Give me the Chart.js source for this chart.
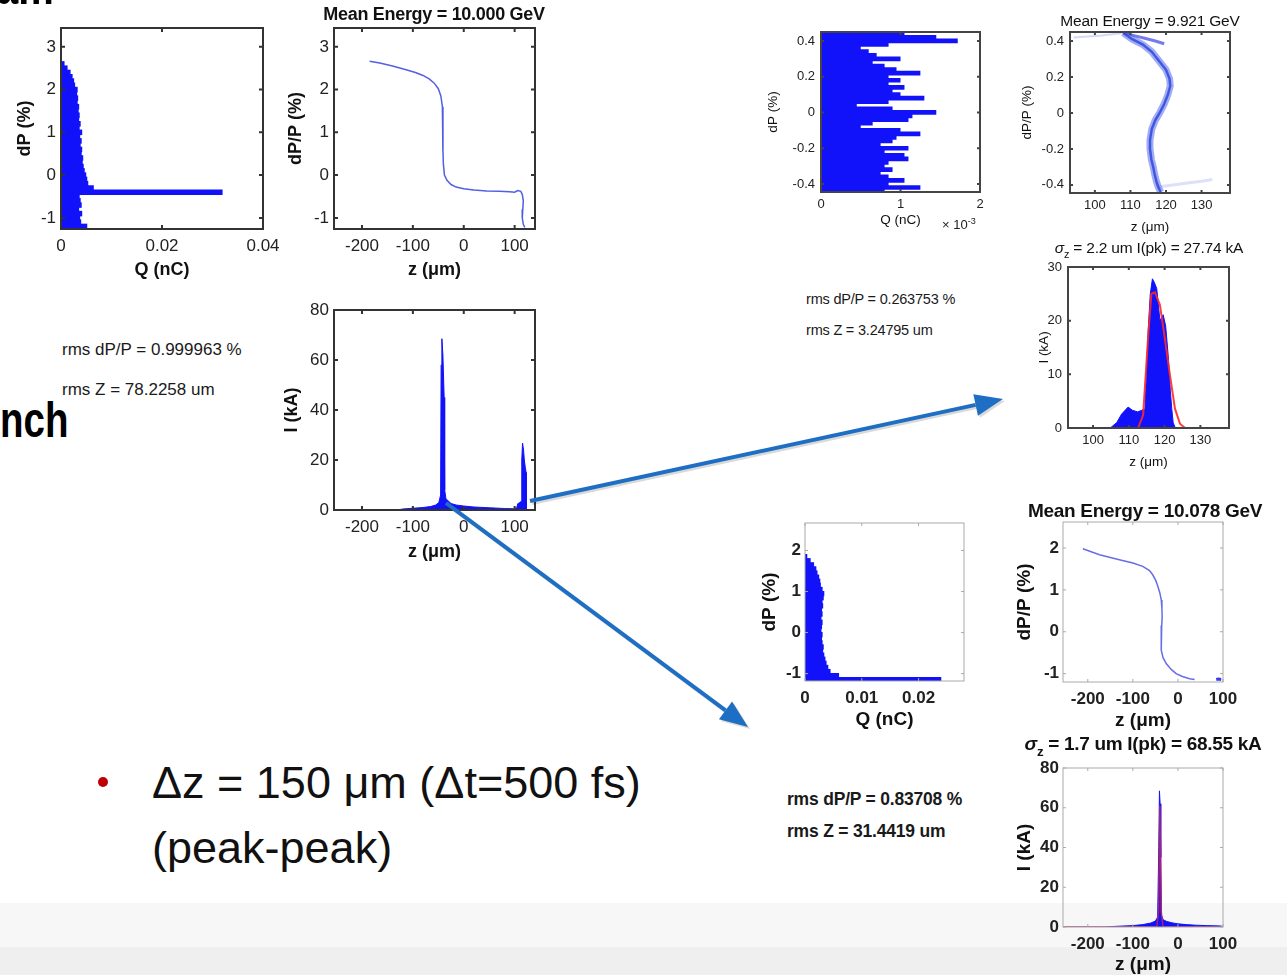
<!DOCTYPE html>
<html>
<head>
<meta charset="utf-8">
<script src="https://cdn.jsdelivr.net/npm/chart.js@4.4.0/dist/chart.umd.min.js"></script>
<style>
  html, body { margin: 0; padding: 0; }
  body { width: 1287px; height: 975px; position: relative; overflow: hidden; background: #fff;
         font-family: "Liberation Sans", Arial, sans-serif; }
  .band1 { position: absolute; left: 0; top: 903px; width: 1287px; height: 44px; background: #f7f7f7; }
  .band2 { position: absolute; left: 0; top: 947px; width: 1287px; height: 28px; background: #efefef; }
  canvas { position: absolute; }
  .txt { position: absolute; white-space: nowrap; color: #111; line-height: 1; transform: translateY(-50%); }
  .ctr { transform: translate(-50%, -50%); }
  .slide { font-weight: bold; color: #000; font-size: 50px; transform-origin: right center; }
  .rmsA { font-size: 17px; color: #1a1a1a; }
  .rmsB { font-size: 14.5px; color: #1a1a1a; letter-spacing: -0.2px; }
  .rmsC { font-size: 17.5px; font-weight: bold; color: #1a1a1a; letter-spacing: -0.2px; }
  .bullet { font-size: 45px; color: #111; }
  .dot { position: absolute; left: 98px; top: 777px; width: 10px; height: 10px; border-radius: 50%; background: #c00000; }
  sub { font-size: 70%; vertical-align: -0.45em; }
  sup { font-size: 70%; vertical-align: 0.5em; }
  svg { position: absolute; left: 0; top: 0; }
</style>
</head>
<body>
<div class="band1"></div>
<div class="band2"></div>

<script>
// ---------- initial beam (left column) ----------
const dpBinsA = [-1.2, -1.1, -1.0, -0.9, -0.8, -0.7, -0.6, -0.5, -0.4, -0.3,
                 -0.2, -0.1, 0, 0.1, 0.2, 0.3, 0.4, 0.5, 0.6, 0.7,
                 0.8, 0.9, 1.0, 1.1, 1.2, 1.3, 1.4, 1.5, 1.6, 1.7,
                 1.8, 1.9, 2.0, 2.1, 2.2, 2.3, 2.4, 2.5, 2.6, 2.7];
const qHistA = [0.0052, 0.0040, 0.0038, 0.0042, 0.0036, 0.0041, 0.0039, 0.0037, 0.0320, 0.0065,
                0.0054, 0.0052, 0.0050, 0.0047, 0.0045, 0.0043, 0.0044, 0.0041, 0.0042, 0.0039,
                0.0041, 0.0038, 0.0042, 0.0037, 0.0039, 0.0036, 0.0037, 0.0035, 0.0036, 0.0033,
                0.0034, 0.0032, 0.0033, 0.0028, 0.0026, 0.0023, 0.0019, 0.0013, 0.0007, 0.0001];

const zPhaseA = [-185, -165, -140, -115, -95, -80, -68, -58, -50, -45,
                 -42, -41, -41, -41, -40, -38, -33, -25, -15, 0,
                 20, 45, 70, 90, 100, 106, 112, 115, 117, 116,
                 115, 117, 120];
const dpPhaseA = [2.66, 2.62, 2.55, 2.47, 2.40, 2.33, 2.25, 2.15, 2.02, 1.85,
                  1.6, 1.3, 1.0, 0.6, 0.25, 0.0, -0.12, -0.22, -0.28, -0.32,
                  -0.35, -0.37, -0.38, -0.39, -0.40, -0.36, -0.38, -0.45, -0.6, -0.8,
                  -1.0, -1.15, -1.22];

const zCurrA = [-255, -130, -120, -100, -80, -65, -55, -49, -45.5, -44.5,
                -43, -41, -38.5, -37.5, -35, -25, -15, 0, 20, 50,
                80, 98, 104, 106, 110, 113, 114, 115.5, 117.5, 119,
                121, 122.5, 123, 140];
const iCurrA = [0, 0, 0.4, 0.7, 1.0, 1.4, 2.0, 3.0, 6, 58,
                68.5, 62, 45, 8, 4.5, 2.6, 2.0, 1.6, 1.2, 0.9,
                0.6, 0.5, 0.8, 2.5, 3.0, 3.5, 20, 26.8, 24, 20,
                17, 15, 0, 0];

// ---------- tail bunch (upper right) ----------
const dpBinsB = [0.44, 0.42, 0.40, 0.38, 0.36, 0.34, 0.32, 0.30, 0.28, 0.26,
                 0.24, 0.22, 0.20, 0.18, 0.16, 0.14, 0.12, 0.10, 0.08, 0.06,
                 0.04, 0.02, 0, -0.02, -0.04, -0.06, -0.08, -0.10, -0.12, -0.14,
                 -0.16, -0.18, -0.20, -0.22, -0.24, -0.26, -0.28, -0.30, -0.32, -0.34,
                 -0.36, -0.38, -0.40, -0.42, -0.44];
const qHistB = [1.05, 1.45, 1.72, 0.85, 0.5, 0.6, 0.7, 1.0, 0.65, 0.8,
                0.95, 1.25, 0.85, 1.0, 0.85, 1.05, 0.9, 1.0, 1.3, 0.85,
                0.45, 0.9, 1.45, 1.15, 1.1, 0.65, 0.5, 1.0, 1.25, 0.95,
                0.9, 0.75, 1.1, 0.8, 1.05, 1.1, 0.85, 0.8, 0.9, 0.75,
                0.85, 1.05, 0.85, 1.25, 0.8];   // x 1e-3 nC

const zPhaseB = [108, 110.5, 113.5, 116, 118, 120, 121, 121.2, 120.5, 119.5,
                 118.2, 117, 116, 115.5, 115.5, 115.9, 116.4, 116.8, 117.3, 117.8, 118.5];
const dpPhaseB = [0.445, 0.41, 0.38, 0.34, 0.29, 0.24, 0.19, 0.15, 0.10, 0.05,
                  0.0, -0.04, -0.09, -0.15, -0.2, -0.26, -0.3, -0.34, -0.38, -0.41, -0.44];
const zBranchB = [108, 111, 114, 117, 119.5];
const dpBranchB = [0.445, 0.43, 0.415, 0.40, 0.385];
const zTailB = [94, 98, 102, 106, 108];
const dpTailB = [0.42, 0.425, 0.43, 0.44, 0.445];
const zTail2B = [118, 122, 126, 130, 133];
const dpTail2B = [-0.41, -0.40, -0.39, -0.38, -0.37];

const zCurrB = [93, 105, 106.6, 108, 109.8, 111, 112.5, 113.6, 114.5, 114.8,
                115.4, 116, 116.6, 117.2, 117.8, 118.7, 119.6, 120.3, 121, 121.6,
                122, 122.4, 123, 138];
const iCurrB = [0, 0.1, 1.0, 2.6, 3.9, 3.3, 3.0, 3.3, 3.5, 8,
                18, 25, 27.8, 27, 26, 20, 21.1, 19, 13.5, 7,
                3.6, 1, 0, 0];
const zFitB = [93, 112.6, 114, 115.4, 116.3, 117.3, 118.7, 120, 121.5, 122.9, 124.3, 125.7, 138];
const iFitB = [0, 0, 2.4, 17, 25, 25.3, 22.9, 17, 9.8, 3.6, 0.8, 0, 0];

// ---------- main bunch (lower right) ----------
const dpBinsC = [-1.15, -1.05, -0.95, -0.85, -0.75, -0.65, -0.55, -0.45, -0.35, -0.25,
                 -0.15, -0.05, 0.05, 0.15, 0.25, 0.35, 0.45, 0.55, 0.65, 0.75,
                 0.85, 0.95, 1.05, 1.15, 1.25, 1.35, 1.45, 1.55, 1.65, 1.75, 1.85];
const qHistC = [0.0240, 0.0060, 0.0045, 0.0041, 0.0038, 0.0036, 0.0034, 0.0032, 0.0033, 0.0031,
                0.0030, 0.0031, 0.0029, 0.0030, 0.0031, 0.0029, 0.0031, 0.0030, 0.0032, 0.0031,
                0.0033, 0.0034, 0.0031, 0.0028, 0.0027, 0.0025, 0.0022, 0.0020, 0.0016, 0.0010, 0.0004];

const zPhaseC = [-211, -174, -130, -100, -78, -63, -56, -49, -44.4, -40,
                 -37, -35.5, -35, -36, -37, -37, -33, -26, -15, -4,
                 10, 26, 37];
const dpPhaseC = [1.98, 1.84, 1.72, 1.64, 1.56, 1.46, 1.36, 1.22, 1.08, 0.92,
                  0.76, 0.55, 0.36, 0.15, -0.04, -0.44, -0.62, -0.76, -0.9, -1.0,
                  -1.07, -1.12, -1.14];
const zClusterC = [85, 90, 96];
const dpClusterC = [-1.14, -1.13, -1.14];

const zCurrC = [-255, -160, -140, -100, -78, -60, -50, -45, -42.5, -41,
                -39.5, -38, -36.5, -33, -25, -11, 0, 18.5, 40, 63, 96, 100];
const iCurrC = [0, 0, 0.3, 0.7, 1.2, 2.0, 3.0, 5, 40, 68.5,
                62, 35, 6, 3.7, 2.8, 2.0, 1.6, 1.2, 0.9, 0.7, 0.5, 0];
const zFitC = [-255, -47, -43, -40, -37, -33, 100];
const iFitC = [0, 0, 8, 61, 8, 0, 0];

// ---------- tick labels ----------
const qTicksA = [0, 0.02, 0.04];
const dpTicksA = [-1, 0, 1, 2, 3];
const zTicksA = [-200, -100, 0, 100];
const iTicksA = [0, 20, 40, 60, 80];
const qTicksB = [0, 1, 2];
const dpTicksB = [-0.4, -0.2, 0, 0.2, 0.4];
const zTicksB = [100, 110, 120, 130];
const iTicksB = [0, 10, 20, 30];
const qTicksC = [0, 0.01, 0.02];
const dpTicksC = [-1, 0, 1, 2];
const zTicksC = [-200, -100, 0, 100];
const iTicksC = [0, 20, 40, 60, 80];

const FONT = '"Liberation Sans", Arial, sans-serif';
const HIST_BLUE = 'rgb(18,18,250)';

// matlab-like box with inward ticks on all four sides
const framePlugin = {
  id: 'matFrame',
  afterDatasetsDraw(chart, args, opts) {
    const {ctx, chartArea: a, scales} = chart;
    const tl = opts.tick;
    ctx.save();
    ctx.strokeStyle = opts.color;
    ctx.lineWidth = opts.width;
    ctx.beginPath();
    scales.x.ticks.forEach(t => {
      const px = scales.x.getPixelForValue(t.value);
      ctx.moveTo(px, a.bottom); ctx.lineTo(px, a.bottom - tl);
      ctx.moveTo(px, a.top); ctx.lineTo(px, a.top + tl);
    });
    scales.y.ticks.forEach(t => {
      const py = scales.y.getPixelForValue(t.value);
      ctx.moveTo(a.left, py); ctx.lineTo(a.left + tl, py);
      ctx.moveTo(a.right, py); ctx.lineTo(a.right - tl, py);
    });
    ctx.stroke();
    ctx.strokeRect(a.left, a.top, a.right - a.left, a.bottom - a.top);
    ctx.restore();
  }
};

const styleA = {tick: 17, tickWeight: 'normal', title: 18, titleWeight: 'bold', padX: 7, padY: 5, frame: '#333', frameW: 2, tickLen: 4};
const styleB = {tick: 13, tickWeight: 'normal', title: 13.5, titleWeight: 'normal', padX: 5, padY: 6, frame: '#444', frameW: 2, tickLen: 3};
const styleC = {tick: 17, tickWeight: 'bold', title: 19, titleWeight: 'bold', padX: 7, padY: 4, frame: '#aaa', frameW: 1, tickLen: 3};

function axisCfg(p, a, isX) {
  const st = p.style;
  const lh = st.title * 1.2;
  const canvasLeft = p.box.l - p.pad.l;
  const canvasBottom = p.box.b + p.pad.b;
  return {
    type: 'linear', position: isX ? 'bottom' : 'left', min: a.min, max: a.max, offset: false,
    grid: {display: false, drawTicks: false}, border: {display: false},
    afterBuildTicks: s => { s.ticks = a.ticks.map(v => ({value: v})); },
    afterFit: s => { if (isX) s.height = p.pad.b; else s.width = p.pad.l; },
    ticks: {autoSkip: false, maxRotation: 0, minRotation: 0, padding: isX ? st.padX : st.padY,
            color: '#222', font: {family: FONT, size: st.tick, weight: st.tickWeight},
            callback: v => String(v)},
    title: {display: true, text: a.title, color: '#111',
            font: {family: FONT, size: st.title, weight: st.titleWeight, lineHeight: 1.2},
            padding: isX ? {top: 0, bottom: canvasBottom - a.titleAt - lh / 2}
                         : {top: a.titleAt - canvasLeft - lh / 2, bottom: 0}}
  };
}

function makePanel(p) {
  const cv = document.createElement('canvas');
  cv.width = p.box.r - p.box.l + p.pad.l + p.pad.r;
  cv.height = p.box.b - p.box.t + p.pad.t + p.pad.b;
  cv.style.left = (p.box.l - p.pad.l) + 'px';
  cv.style.top = (p.box.t - p.pad.t) + 'px';
  document.body.appendChild(cv);
  const st = p.style;
  new Chart(cv, {
    type: p.type,
    data: {datasets: p.datasets},
    options: {
      responsive: false,
      animation: false,
      indexAxis: p.indexAxis || 'x',
      layout: {padding: {top: p.pad.t, right: p.pad.r, left: 0, bottom: 0}, autoPadding: false},
      plugins: {
        legend: {display: false},
        tooltip: {enabled: false},
        matFrame: {color: st.frame, width: st.frameW, tick: st.tickLen}
      },
      scales: {x: axisCfg(p, p.x, true), y: axisCfg(p, p.y, false)}
    },
    plugins: [framePlugin]
  });
}

function hist(bins, vals) {
  return {data: bins.map((d, i) => ({x: vals[i], y: d})), backgroundColor: HIST_BLUE,
          borderWidth: 0, barPercentage: 1.3, categoryPercentage: 1};
}
function curve(xs, ys, color, width, opts) {
  return Object.assign({data: xs.map((x, i) => ({x: x, y: ys[i]})), showLine: true,
          borderColor: color, backgroundColor: color, borderWidth: width,
          pointRadius: 0, tension: 0, fill: false}, opts || {});
}

// ---------- panels ----------
makePanel({
  type: 'bar', indexAxis: 'y', style: styleA,
  box: {l: 61, t: 28, r: 263, b: 229}, pad: {l: 61, t: 20, r: 30, b: 55},
  x: {min: 0, max: 0.04, ticks: qTicksA, title: 'Q (nC)', titleAt: 270},
  y: {min: -1.26, max: 3.44, ticks: dpTicksA, title: 'dP (%)', titleAt: 25},
  datasets: [hist(dpBinsA, qHistA)]
});
makePanel({
  type: 'scatter', style: styleA,
  box: {l: 334, t: 28, r: 535, b: 229}, pad: {l: 60, t: 20, r: 30, b: 55},
  x: {min: -255, max: 140, ticks: zTicksA, title: 'z (μm)', titleAt: 270},
  y: {min: -1.26, max: 3.44, ticks: dpTicksA, title: 'dP/P (%)', titleAt: 296},
  datasets: [
    curve(zPhaseA, dpPhaseA, 'rgba(50,60,225,0.8)', 1.5),
    curve(zPhaseA, dpPhaseA, 'rgba(80,180,210,0.35)', 0.8)
  ]
});
makePanel({
  type: 'scatter', style: styleA,
  box: {l: 334, t: 310, r: 535, b: 510}, pad: {l: 60, t: 20, r: 30, b: 55},
  x: {min: -255, max: 140, ticks: zTicksA, title: 'z (μm)', titleAt: 552},
  y: {min: 0, max: 80, ticks: iTicksA, title: 'I (kA)', titleAt: 292},
  datasets: [curve(zCurrA, iCurrA, HIST_BLUE, 1, {fill: 'origin'})]
});

makePanel({
  type: 'bar', indexAxis: 'y', style: styleB,
  box: {l: 821, t: 32, r: 980, b: 192}, pad: {l: 60, t: 20, r: 14, b: 40},
  x: {min: 0, max: 2, ticks: qTicksB, title: 'Q (nC)', titleAt: 220},
  y: {min: -0.445, max: 0.45, ticks: dpTicksB, title: 'dP (%)', titleAt: 773},
  datasets: [hist(dpBinsB, qHistB)]
});
makePanel({
  type: 'scatter', style: styleB,
  box: {l: 1070, t: 32, r: 1230, b: 193}, pad: {l: 62, t: 20, r: 30, b: 45},
  x: {min: 93, max: 138, ticks: zTicksB, title: 'z (μm)', titleAt: 227},
  y: {min: -0.445, max: 0.45, ticks: dpTicksB, title: 'dP/P (%)', titleAt: 1027},
  datasets: [
    curve(zPhaseB, dpPhaseB, 'rgba(40,60,220,0.75)', 2.5),
    curve(zPhaseB, dpPhaseB, 'rgba(60,170,205,0.45)', 1.2),
    curve(zPhaseB, dpPhaseB, 'rgba(70,90,235,0.5)', 7),
    curve(zBranchB, dpBranchB, 'rgba(60,70,225,0.7)', 3),
    curve(zTailB, dpTailB, 'rgba(90,100,230,0.25)', 2),
    curve(zTail2B, dpTail2B, 'rgba(90,100,230,0.2)', 3)
  ]
});
makePanel({
  type: 'scatter', style: styleB,
  box: {l: 1068, t: 267, r: 1229, b: 428}, pad: {l: 50, t: 20, r: 30, b: 45},
  x: {min: 93, max: 138, ticks: zTicksB, title: 'z (μm)', titleAt: 462},
  y: {min: 0, max: 30, ticks: iTicksB, title: 'I (kA)', titleAt: 1044},
  datasets: [
    curve(zFitB, iFitB, 'rgba(255,40,40,0.9)', 2, {order: 0}),
    curve(zCurrB, iCurrB, HIST_BLUE, 1, {fill: 'origin', order: 1})
  ]
});

makePanel({
  type: 'bar', indexAxis: 'y', style: styleC,
  box: {l: 805, t: 523, r: 964, b: 681}, pad: {l: 50, t: 20, r: 20, b: 52},
  x: {min: 0, max: 0.028, ticks: qTicksC, title: 'Q (nC)', titleAt: 720},
  y: {min: -1.18, max: 2.67, ticks: dpTicksC, title: 'dP (%)', titleAt: 770},
  datasets: [hist(dpBinsC, qHistC)]
});
makePanel({
  type: 'scatter', style: styleC,
  box: {l: 1063, t: 522, r: 1223, b: 682}, pad: {l: 52, t: 20, r: 30, b: 52},
  x: {min: -255, max: 100, ticks: zTicksC, title: 'z (μm)', titleAt: 721},
  y: {min: -1.2, max: 2.62, ticks: dpTicksC, title: 'dP/P (%)', titleAt: 1025},
  datasets: [
    curve(zPhaseC, dpPhaseC, 'rgba(50,60,225,0.75)', 1.5),
    curve(zClusterC, dpClusterC, 'rgba(30,40,230,0.9)', 3)
  ]
});
makePanel({
  type: 'scatter', style: styleC,
  box: {l: 1063, t: 768, r: 1223, b: 927}, pad: {l: 52, t: 20, r: 30, b: 52},
  x: {min: -255, max: 100, ticks: zTicksC, title: 'z (μm)', titleAt: 965},
  y: {min: 0, max: 80, ticks: iTicksC, title: 'I (kA)', titleAt: 1025},
  datasets: [
    curve(zFitC, iFitC, 'rgba(230,40,60,0.7)', 1.5, {order: 0}),
    curve(zCurrC, iCurrC, HIST_BLUE, 1, {fill: 'origin', order: 1})
  ]
});

// ---------- slide text ----------
function addText(html, x, y, cls, extra) {
  const d = document.createElement('div');
  d.className = 'txt ' + cls;
  d.innerHTML = html;
  d.style.left = x + 'px';
  d.style.top = y + 'px';
  if (extra) Object.assign(d.style, extra);
  document.body.appendChild(d);
  return d;
}

addText('am', -4, -13, 'slide', {transform: 'translateY(-50%) scaleX(0.8)', transformOrigin: 'left center'});
addText('nch', 0, 420, 'slide', {transform: 'translateY(-50%) scaleX(0.77)', transformOrigin: 'left center'});

addText('rms dP/P = 0.999963 %', 62, 349, 'rmsA');
addText('rms Z = 78.2258 um', 62, 389, 'rmsA');
addText('rms dP/P = 0.263753 %', 806, 299, 'rmsB');
addText('rms Z = 3.24795 um', 806, 330, 'rmsB');
addText('rms dP/P = 0.83708 %', 787, 800, 'rmsC');
addText('rms Z = 31.4419 um', 787, 832, 'rmsC');

addText('Mean Energy = 10.000 GeV', 434, 14, 'ctr', {fontSize: '18px', fontWeight: 'bold', letterSpacing: '-0.3px'});
addText('Mean Energy = 9.921 GeV', 1150, 21, 'ctr', {fontSize: '15.5px', letterSpacing: '-0.2px'});
addText('<i>σ</i><sub>z</sub> = 2.2 um I(pk) = 27.74 kA', 1149, 250, 'ctr', {fontSize: '15.5px', letterSpacing: '-0.2px'});
addText('Mean Energy = 10.078 GeV', 1145, 510, 'ctr', {fontSize: '19px', fontWeight: 'bold', letterSpacing: '-0.3px'});
addText('<i>σ</i><sub>z</sub> = 1.7 um I(pk) = 68.55 kA', 1143, 746, 'ctr', {fontSize: '19px', fontWeight: 'bold', letterSpacing: '-0.3px'});
addText('× 10<sup>-3</sup>', 942, 224, '', {fontSize: '13px', color: '#222'});

const dot = document.createElement('div');
dot.className = 'dot';
document.body.appendChild(dot);
addText('Δz = 150 μm (Δt=500 fs)', 152, 782, 'bullet');
addText('(peak-peak)', 152, 847, 'bullet');

// ---------- arrows ----------
const NS = 'http://www.w3.org/2000/svg';
const svg = document.createElementNS(NS, 'svg');
svg.setAttribute('width', 1287);
svg.setAttribute('height', 975);
document.body.appendChild(svg);

function drawArrow(x1, y1, x2, y2) {
  const dx = x2 - x1, dy = y2 - y1, len = Math.hypot(dx, dy);
  const ux = dx / len, uy = dy / len, nx = -uy, ny = ux;
  const hl = 28, hw = 11;
  const bx = x2 - ux * hl, by = y2 - uy * hl;
  [[2, 2, 'rgba(0,0,0,0.15)'], [0, 0, '#1e6ec3']].forEach(([ox, oy, col]) => {
    const ln = document.createElementNS(NS, 'line');
    ln.setAttribute('x1', x1 + ox); ln.setAttribute('y1', y1 + oy);
    ln.setAttribute('x2', bx + ox); ln.setAttribute('y2', by + oy);
    ln.setAttribute('stroke', col); ln.setAttribute('stroke-width', 4);
    svg.appendChild(ln);
    const hd = document.createElementNS(NS, 'polygon');
    hd.setAttribute('points', [
      (x2 + ox) + ',' + (y2 + oy),
      (bx + nx * hw + ox) + ',' + (by + ny * hw + oy),
      (bx - nx * hw + ox) + ',' + (by - ny * hw + oy)].join(' '));
    hd.setAttribute('fill', col);
    svg.appendChild(hd);
  });
}
drawArrow(530, 501, 1003, 399);
drawArrow(446, 503, 748, 727);
</script>
</body>
</html>
